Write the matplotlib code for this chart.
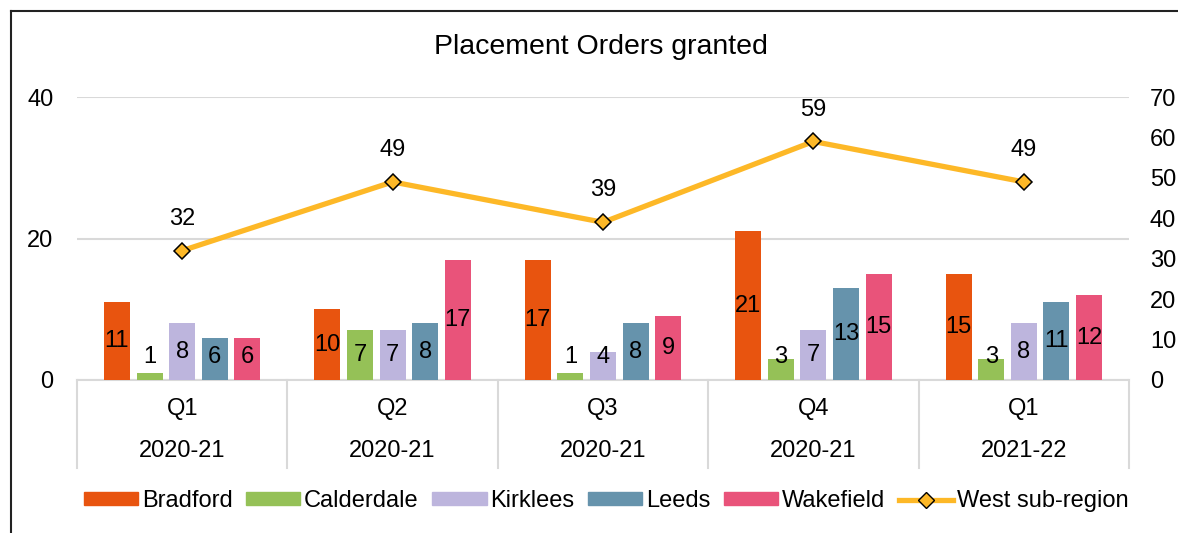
import matplotlib
matplotlib.use("Agg")
import matplotlib.pyplot as plt
from matplotlib.lines import Line2D
import numpy as np

plt.rcParams["font.family"] = ["Liberation Sans", "DejaVu Sans"]

quarters = ["Q1", "Q2", "Q3", "Q4", "Q1"]
years = ["2020-21", "2020-21", "2020-21", "2020-21", "2021-22"]
areas = ["Bradford", "Calderdale", "Kirklees", "Leeds", "Wakefield"]
bradford = [11, 10, 17, 21, 15]
calderdale = [1, 7, 1, 3, 3]
kirklees = [8, 7, 4, 7, 8]
leeds = [6, 8, 8, 13, 11]
wakefield = [6, 17, 9, 15, 12]
west = [32, 49, 39, 59, 49]

colors = ["#E8540F", "#95C157", "#BDB5DD", "#6693AC", "#E9537A"]
line_color = "#FDB827"
grid_color = "#D9D9D9"
FS = 17

fig = plt.figure(figsize=(11.78, 5.33), dpi=100)
ax = fig.add_axes([77 / 1178, 1 - 380 / 533, (1129 - 77) / 1178, (380 - 97) / 533])
ax2 = ax.twinx()

x = np.arange(len(quarters))
step = 0.155
width = 0.124
series = [bradford, calderdale, kirklees, leeds, wakefield]
for i, (name, vals) in enumerate(zip(areas, series)):
    xs = x + (i - 2) * step
    ax.bar(xs, vals, width=width, color=colors[i], label=name, zorder=3)
    for xi, v in zip(xs, vals):
        ax.text(xi, max(v / 2, 3.3), str(v), ha="center", va="center",
                fontsize=FS, color="black", zorder=4)

ax.set_xlim(-0.5, len(quarters) - 0.5)
ax.set_ylim(0, 40)
ax.set_yticks([0, 20, 40])
ax.grid(axis="y", color=grid_color, linewidth=1.5, zorder=0)
ax.set_axisbelow(True)
ax.tick_params(axis="y", length=0, labelsize=FS, pad=17)
ax.tick_params(axis="x", length=0, labelbottom=False)
for s in ["top", "right", "left"]:
    ax.spines[s].set_visible(False)
ax.spines["bottom"].set_color(grid_color)
ax.spines["bottom"].set_linewidth(1.5)

# category table below the axis
for b in np.arange(-0.5, len(quarters), 1.0):
    ax.plot([b, b], [0, -0.31], transform=ax.get_xaxis_transform(),
            color=grid_color, linewidth=1.5, clip_on=False)
for xi, q, yr in zip(x, quarters, years):
    ax.text(xi, -0.1025, q, transform=ax.get_xaxis_transform(),
            ha="center", va="center", fontsize=FS)
    ax.text(xi, -0.251, yr, transform=ax.get_xaxis_transform(),
            ha="center", va="center", fontsize=FS)

ax2.plot(x, west, color=line_color, linewidth=3.8, marker="D", markersize=8,
         markerfacecolor=line_color, markeredgecolor="black", markeredgewidth=1.1,
         zorder=5)
for xi, v in zip(x, west):
    ax2.annotate(str(v), (xi, v), xytext=(0, 23), textcoords="offset points",
                 ha="center", va="center", fontsize=FS)
ax2.set_ylim(0, 70)
ax2.set_yticks(range(0, 71, 10))
ax2.tick_params(axis="y", length=0, labelsize=FS, pad=15)
for s in ax2.spines.values():
    s.set_visible(False)

fig.text(601 / 1178, 1 - 47 / 533, "Placement Orders granted",
         ha="center", va="center", fontsize=20.5)

handles = [plt.Rectangle((0, 0), 1, 1, color=c) for c in colors]
handles.append(Line2D([0], [0], color=line_color, linewidth=3.8, marker="D",
                      markersize=8, markerfacecolor=line_color,
                      markeredgecolor="black"))
labels = areas + ["West sub-region"]
fig.legend(handles, labels, loc="center", bbox_to_anchor=(606 / 1178, 1 - 501 / 533),
           ncol=6, frameon=False, fontsize=FS, handlelength=2.3, handleheight=0.42,
           handletextpad=0.15, columnspacing=0.58)

# chart border (top and left edges visible in the crop)
fig.add_artist(Line2D([11 / 1178, 1], [1 - 11 / 533, 1 - 11 / 533], color="#222222", linewidth=1.5))
fig.add_artist(Line2D([11 / 1178, 11 / 1178], [0, 1 - 11 / 533], color="#222222", linewidth=1.5))

fig.savefig("out.png", dpi=100)
